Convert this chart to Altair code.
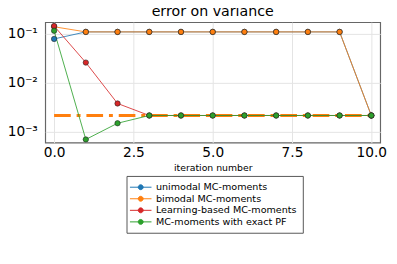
import altair as alt
import pandas as pd

iterations = [0, 1, 2, 3, 4, 5, 6, 7, 8, 9, 10]
series_names = [
    "unimodal MC-moments",
    "bimodal MC-moments",
    "Learning-based MC-moments",
    "MC-moments with exact PF",
]
colors = ["#1f77b4", "#ff7f0e", "#d62728", "#2ca02c"]

unimodal = [0.079, 0.11, 0.11, 0.11, 0.11, 0.11, 0.11, 0.11, 0.11, 0.11, 0.00216]
bimodal = [0.14, 0.11, 0.11, 0.11, 0.11, 0.11, 0.11, 0.11, 0.11, 0.11, 0.00216]
learning = [0.145, 0.026, 0.0038, 0.00216, 0.00216, 0.00216, 0.00216, 0.00216, 0.00216, 0.00216, 0.00216]
exact_pf = [0.116, 0.0007, 0.0015, 0.00216, 0.00216, 0.00216, 0.00216, 0.00216, 0.00216, 0.00216, 0.00216]

ref_x = [0, 10]
ref_y = [0.00216, 0.00216]

y_ticks = [0.001, 0.01, 0.1]
x_ticks = [0, 2.5, 5, 7.5, 10]
title_text = ["error on variance"]

rows = []
for name, vals in zip(series_names, [unimodal, bimodal, learning, exact_pf]):
    for i, v in zip(iterations, vals):
        rows.append({"iteration": i, "value": v, "series": name})
df = pd.DataFrame(rows)
ref_df = pd.DataFrame({"iteration": ref_x, "value": ref_y})

x_scale = alt.Scale(domain=[-0.28, 10.28], nice=False, zero=False)
y_scale = alt.Scale(type="log", domain=[10 ** -3.22, 10 ** -0.76], nice=False)
color_scale = alt.Scale(domain=series_names, range=colors)

x_enc = alt.X(
    "iteration:Q", scale=x_scale,
    axis=alt.Axis(values=x_ticks, format=".1f", title="iteration number",
                  labelFontSize=14, titleFontSize=9.5, titleFontWeight="normal",
                  ticks=False, labelPadding=3, titlePadding=3, domain=False,
                  grid=True, gridColor="#e3e3e3", labelColor="black", titleColor="black"),
)
y_enc = alt.Y(
    "value:Q", scale=y_scale,
    axis=alt.Axis(values=y_ticks, title=None, labelFontSize=14,
                  labelExpr="datum.value >= 0.05 ? '10⁻¹' : (datum.value >= 0.005 ? '10⁻²' : '10⁻³')",
                  ticks=False, labelPadding=8, domain=False,
                  grid=True, gridColor="#e3e3e3", labelColor="black"),
)

legend = alt.Legend(
    title=None, orient="none", legendX=83, legendY=157,
    symbolType="M-2.2,0 L2.2,0 M-0.5,0 A0.5,0.5 0 1,1 0.5,0 A0.5,0.5 0 1,1 -0.5,0 Z",
    symbolSize=100, symbolStrokeWidth=1, symbolOffset=3, symbolOpacity=1,
    labelFontSize=9.8, labelOffset=10, rowPadding=0.8, padding=6,
    strokeColor="#555555", fillColor="white", labelColor="black",
)

ref_line = alt.Chart(ref_df).mark_line(
    color="#ff7f0e", strokeWidth=3, strokeDash=[17, 6, 4, 6], clip=True
).encode(x=x_enc, y=y_enc)

lines = alt.Chart(df).mark_line(strokeWidth=1, opacity=0.85, clip=True).encode(
    x=x_enc, y=y_enc,
    stroke=alt.Stroke("series:N", scale=color_scale, legend=legend, sort=series_names),
    detail="series:N",
)

points = alt.Chart(df).mark_point(size=30, filled=True, opacity=1, clip=True).encode(
    x=x_enc, y=y_enc,
    fill=alt.Fill("series:N", scale=color_scale, legend=legend, sort=series_names),
    stroke=alt.value("#222222"),
    strokeWidth=alt.value(0.6),
)

title = alt.Chart(pd.DataFrame({"t": title_text})).mark_text(
    fontSize=14.5, font="DejaVu Sans", color="black", align="center", baseline="alphabetic"
).encode(text="t:N", x=alt.value(171), y=alt.value(-6))

chart = alt.layer(ref_line, lines, points, title).properties(
    width=342, height=123,
    autosize=alt.AutoSizeParams(type="none"),
    padding={"left": 38, "top": 12, "right": 9, "bottom": 100},
).configure(font="DejaVu Sans").configure_view(stroke="#666666", strokeWidth=1.2)

chart.save("out.html", embed_options={"renderer": "svg", "actions": False})
